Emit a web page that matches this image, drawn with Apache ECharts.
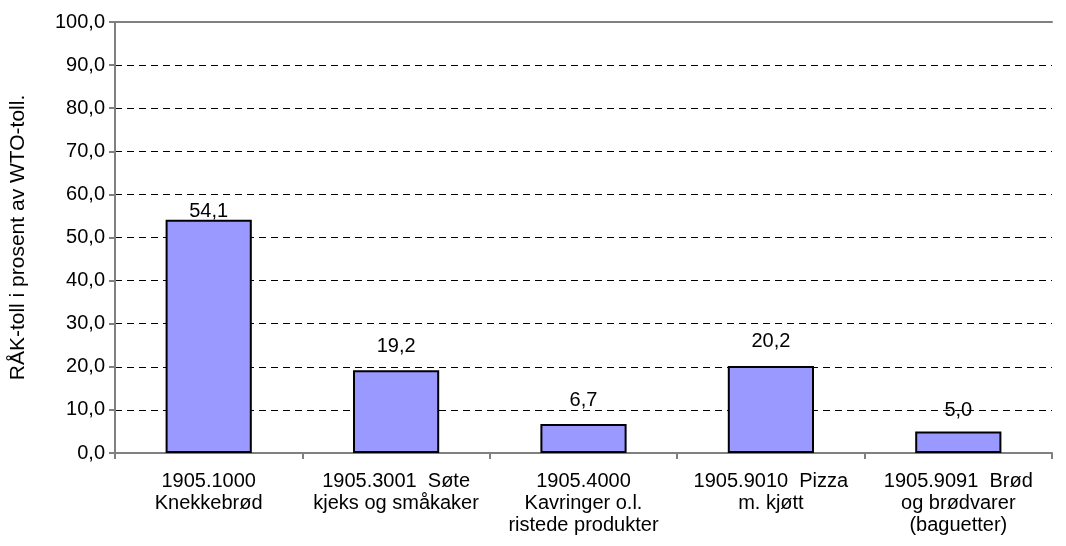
<!DOCTYPE html>
<html>
<head>
<meta charset="utf-8">
<script src="https://cdn.jsdelivr.net/npm/echarts@6/dist/echarts.min.js"></script>
<style>
  html, body { margin: 0; padding: 0; background: #fff; }
  #chart { width: 1066px; height: 546px; }
</style>
</head>
<body>
<div id="chart"></div>
<script>
// kategorier (tolltariffnummer + varebeskrivelse)
const categories = [
  '1905.1000\nKnekkebrød',
  '1905.3001  Søte\nkjeks og småkaker',
  '1905.4000\nKavringer o.l.\nristede produkter',
  '1905.9010  Pizza\nm. kjøtt',
  '1905.9091  Brød\nog brødvarer\n(baguetter)'
]
const values = [54.1, 19.2, 6.7, 20.2, 5.0]
const yTicks = { min: 0, max: 100, interval: 10 }
const yName = 'RÅK-toll i prosent av WTO-toll.'

// label spacing above each bar, as placed in the original
const labelDistances = [-2, 14, 14, 14, 11]

const fmt = v => Number(v).toFixed(1).replace('.', ',')
const font = 'Liberation Sans, Arial, sans-serif'

const option = {
  animation: false,
  textStyle: { fontFamily: font },
  grid: {
    left: 111,
    right: 14,
    top: 22,
    bottom: 93,
  },
  xAxis: [
    {
      type: 'category',
      data: categories,
      axisLine: { show: true, lineStyle: { color: '#808080', width: 2 } },
      axisTick: { show: true, length: 6, lineStyle: { color: '#808080', width: 2 } },
      axisLabel: {
        color: '#000',
        fontSize: 20,
        lineHeight: 22,
        margin: 17,
        interval: 0,
        fontFamily: font,
      },
    },
    {
      // top edge of the plot area
      type: 'category',
      position: 'top',
      data: categories,
      axisLine: { show: true, lineStyle: { color: '#808080', width: 2 } },
      axisTick: { show: false },
      axisLabel: { show: false },
    },
  ],
  yAxis: {
    type: 'value',
    min: yTicks.min,
    max: yTicks.max,
    interval: yTicks.interval,
    name: yName,
    nameLocation: 'middle',
    nameGap: 86,
    nameTextStyle: { color: '#000', fontSize: 21, fontFamily: font },
    axisLine: { show: true, lineStyle: { color: '#808080', width: 2 } },
    axisTick: { show: true, length: 6, lineStyle: { color: '#808080', width: 2 } },
    axisLabel: {
      color: '#000',
      fontSize: 20,
      margin: 10,
      formatter: fmt,
      fontFamily: font,
    },
    splitLine: {
      show: true,
      lineStyle: { color: '#000', width: 1, type: [7, 5] },
    },
  },
  series: [
    {
      type: 'bar',
      data: values.map((v, i) => ({
        value: v,
        label: { distance: labelDistances[i] },
      })),
      barWidth: '46%',
      itemStyle: {
        color: '#9999FF',
        borderColor: '#000',
        borderWidth: 2,
      },
      label: {
        show: true,
        position: 'top',
        color: '#000',
        fontSize: 20,
        fontFamily: font,
        formatter: p => fmt(p.value),
      },
    },
  ],
}

const myChart = echarts.init(document.getElementById('chart'))
myChart.setOption(option)
</script>
</body>
</html>
